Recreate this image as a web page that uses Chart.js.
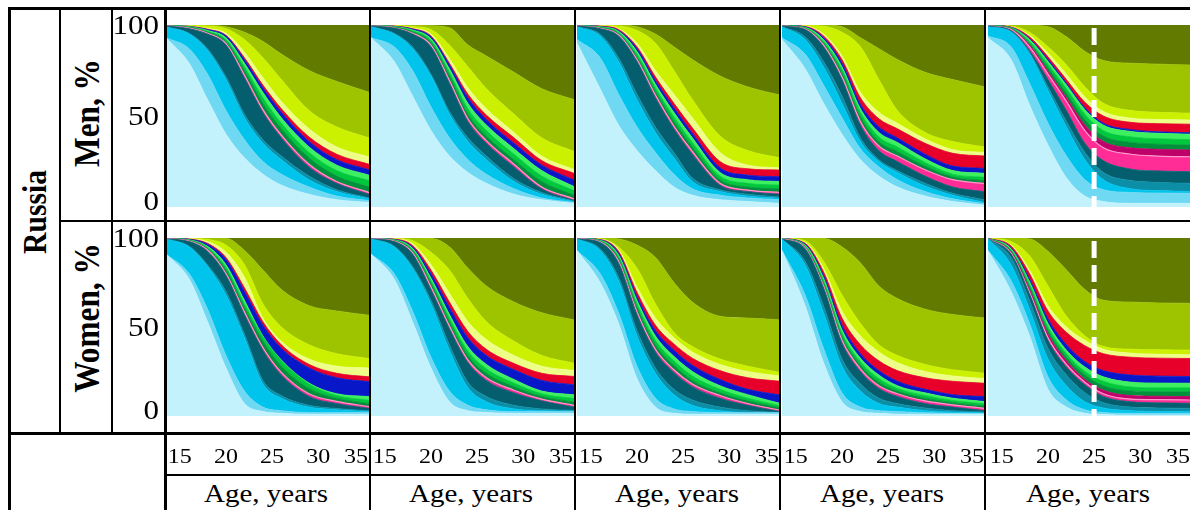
<!DOCTYPE html>
<html>
<head>
<meta charset="utf-8">
<script src="https://cdn.jsdelivr.net/npm/chart.js@4.4.1/dist/chart.umd.min.js"></script>
<style>
  body { margin: 0; background: #fff; }
  #page { position: relative; width: 1190px; height: 510px; overflow: hidden; font-family: "Liberation Serif", "Times New Roman", serif; }
  #page canvas { position: absolute; }
  .ln { position: absolute; background: #000; z-index: 5; }
  .lbl { position: absolute; white-space: nowrap; z-index: 6; color: #000; line-height: 1; }
</style>
</head>
<body>
<div id="page"></div>
<script>
const ages = [13.5, 16, 18, 20, 22, 24, 26, 29, 32, 35.5];
const xTicks = [15, 20, 25, 30, 35];
const yTicks = [0, 50, 100];
const full = [100, 100, 100, 100, 100, 100, 100, 100, 100, 100];

// bottom layer first
const layerColors = [
  '#c4f2fc', '#6fd8f3', '#00c4ec', '#0b8ea6', '#055e6e',
  '#ff2d95', '#c0006a', '#00913a', '#00c83c', '#3cf060',
  '#0818c8', '#e6002a', '#eeff88', '#cbf000', '#9ec400', '#627a00'
];

// cumulative upper edge (%) of each layer, bottom layer first
const men1 = [
  [93, 79, 59, 40, 27, 18, 12, 7, 4, 2.5],
  [93, 87, 73, 53, 37, 25, 18, 11, 6, 3.5],
  [99, 95, 86, 70, 49, 35, 26, 15, 8.5, 4.5],
  [99, 95.5, 87, 71.5, 51, 37, 28, 17, 9.5, 5],
  [99.5, 98, 95, 89, 71, 52, 38, 22, 13, 7],
  [99.6, 98.3, 95.5, 89.8, 72.5, 53.5, 39.5, 23.5, 14, 8],
  [99.6, 98.3, 95.5, 89.8, 72.5, 53.5, 39.5, 23.5, 14, 8],
  [99.7, 98.6, 96, 91, 75, 57, 43, 27, 17, 11],
  [99.8, 98.9, 96.5, 92, 77, 60, 46, 30, 20, 14.5],
  [99.8, 99.1, 97, 93, 79, 63, 49, 33, 23, 17.5],
  [99.9, 99.2, 97.5, 94, 81, 65.5, 52, 36, 26, 20.5],
  [99.9, 99.3, 97.7, 94.3, 82, 67, 54, 38.5, 29, 23.5],
  [99.9, 99.5, 98.2, 95.5, 85, 71, 58, 43, 33, 27.5],
  [100, 99.8, 99.5, 98, 92, 82, 70, 53, 44, 38],
  [100, 100, 100, 99, 96, 91, 84, 75, 69, 63]
];
const men2 = [
  [93, 80, 61, 42, 28, 19, 13, 7, 4, 2],
  [93, 88, 75, 55, 38, 26, 18, 10, 5, 2.5],
  [99, 95, 87, 72, 51, 36, 26, 14, 7, 3],
  [99, 95.5, 88, 73, 52.5, 38, 28, 15.5, 8, 3.3],
  [99.5, 98.3, 95, 88, 68, 47, 35, 22, 10, 3.6],
  [99.6, 98.5, 95.5, 89, 69.5, 48.5, 36.5, 23.5, 11, 4.5],
  [99.6, 98.5, 95.5, 89, 69.5, 48.5, 36.5, 23.5, 11, 4.5],
  [99.7, 98.8, 96.2, 90.5, 72, 51, 39, 26, 14, 6.5],
  [99.8, 99, 96.8, 91.5, 74, 54, 42, 29, 17, 9],
  [99.8, 99.2, 97.3, 92.5, 76, 57, 45, 32, 20, 11.2],
  [99.9, 99.3, 97.8, 93.5, 78, 60, 48, 35, 23, 14.8],
  [99.9, 99.4, 98, 94, 79, 62, 50.5, 38, 25.5, 18.5],
  [99.9, 99.5, 98.4, 95, 81.5, 65.5, 54, 41, 28, 20.5],
  [100, 99.8, 99.2, 97.5, 89, 77, 65, 51, 38, 30.5],
  [100, 100, 99.9, 99.6, 98.5, 89, 83, 74, 65, 59]
];
const men3 = [
  [90, 65, 45, 31, 20, 11, 6.5, 4, 3, 2],
  [92, 82, 62, 44, 30, 18, 10, 6.5, 5, 4],
  [99, 94, 80, 59, 41, 27, 14, 8.5, 6, 4.8],
  [99, 95, 82, 62, 44, 30, 16, 9.5, 7, 5.5],
  [99.5, 98, 94, 80, 60, 43, 29, 12, 8.5, 7],
  [99.6, 98.2, 94.6, 81, 61.5, 44.5, 30.5, 13, 9.3, 8],
  [99.6, 98.2, 94.6, 81, 61.5, 44.5, 30.5, 13, 9.3, 8],
  [99.7, 98.5, 95.3, 82.5, 63.5, 47, 33, 15, 11, 10],
  [99.8, 98.8, 96, 84, 65.5, 49.5, 35.5, 17, 13, 12],
  [99.8, 99, 96.5, 85.5, 67.5, 52, 38, 19, 15, 14],
  [99.9, 99.2, 97, 87, 69.5, 54.5, 40.5, 21.5, 17.5, 16.6],
  [99.9, 99.4, 97.5, 88, 71.5, 57, 43.5, 25, 21, 20.3],
  [99.9, 99.6, 98, 90, 75, 62, 49, 30, 23, 21.5],
  [100, 99.8, 99.5, 97, 90, 75, 59, 39, 31, 27],
  [100, 100, 100, 99, 95, 88, 81, 72, 66, 61.5]
];
const men4 = [
  [92, 76, 57, 40, 26, 17, 11, 6, 3, 1],
  [93, 84, 67, 49, 32, 22, 15, 8.5, 4.5, 1.8],
  [99, 92, 77, 57, 36, 25, 19, 11.5, 6.5, 2.5],
  [99, 93.5, 80, 61, 38, 26, 20, 13, 7.5, 3.9],
  [99.5, 97.5, 88, 70, 45, 31, 25, 17, 11, 8.4],
  [99.6, 97.8, 89, 71.5, 47, 33.5, 28, 20.5, 15, 12.9],
  [99.6, 97.8, 89, 71.5, 47, 33.5, 28, 20.5, 15, 12.9],
  [99.7, 98.1, 90, 73.5, 49.5, 36, 30.5, 22.5, 16.5, 14.5],
  [99.8, 98.4, 91, 75.5, 52, 38.5, 33, 24.5, 18, 16.3],
  [99.8, 98.7, 92, 77, 54, 41, 35.5, 26.5, 20, 18.5],
  [99.9, 99, 93, 79, 56.5, 44, 38, 29, 22.5, 21.2],
  [99.9, 99.2, 94, 81, 60, 48.5, 43, 35, 29.5, 28],
  [99.9, 99.4, 95, 83, 63, 52, 46, 37.5, 31.5, 30],
  [100, 99.8, 99.3, 96, 88, 70, 53, 41, 36, 33],
  [100, 100, 100, 99, 93, 87, 81, 74, 70, 66]
];
const men5 = [
  [93, 81, 56, 34, 16, 6, 3, 2, 2, 2],
  [94, 88, 68, 46, 28, 15, 9.5, 8, 7.7, 7.5],
  [99, 96, 84, 64, 44, 26, 15, 10, 9, 8.5],
  [99, 96.5, 85, 66, 47, 30, 19, 14.5, 13.5, 13],
  [99.5, 97, 86, 70, 53, 35, 25.5, 20.8, 19.8, 19.4],
  [99.6, 97.5, 88, 73, 58, 42, 32.5, 29, 28, 27.6],
  [99.6, 97.7, 89, 74.5, 60, 45, 36, 32.5, 31.7, 31.3],
  [99.7, 98, 90, 76.5, 62.5, 48, 39, 35.5, 34.5, 34],
  [99.8, 98.3, 91, 78.5, 65, 51, 42, 38.5, 37.5, 37],
  [99.8, 98.5, 92, 80, 67, 53.5, 45, 41.5, 40.5, 40],
  [99.9, 98.7, 92.5, 81, 68, 54.5, 46, 42.5, 41.3, 40.8],
  [99.9, 98.9, 93.5, 82.5, 70, 57.5, 50, 46.5, 45.8, 45.5],
  [99.9, 99.1, 94.3, 84.5, 73, 60.5, 52.5, 48.8, 48.1, 47.8],
  [100, 99.4, 96, 88, 78, 66, 57, 53, 52, 51.5],
  [100, 100, 99.8, 99, 93.5, 85.5, 80.5, 79, 78.5, 78]
];
const women1 = [
  [91, 77, 53, 27, 7, 2.5, 1.5, 1, 1, 1],
  [91, 80, 60, 34, 14, 5, 3, 2, 2, 2],
  [99.5, 95, 84, 68, 44, 18, 10, 5, 3.5, 2.5],
  [99.5, 95.5, 85, 70, 46, 20, 11.5, 6, 4.2, 3],
  [99.6, 98, 92.5, 79, 57, 37, 23, 11, 7, 4.3],
  [99.7, 98.3, 93.3, 80, 58.5, 38.5, 24.5, 12.5, 8.2, 5.3],
  [99.7, 98.3, 93.3, 80, 58.5, 38.5, 24.5, 12.5, 8.2, 5.3],
  [99.8, 98.6, 94, 82, 61, 42, 28, 15.5, 10, 7],
  [99.8, 98.8, 94.7, 83.5, 63, 44.5, 31, 18, 11.5, 8.8],
  [99.8, 99, 95.3, 85, 65, 45, 31.5, 18.5, 12.5, 10.9],
  [99.9, 99.3, 96.5, 88, 70, 51, 38, 27, 21.5, 19.3],
  [99.9, 99.4, 97, 89, 72, 53, 40, 29, 24, 22],
  [99.9, 99.6, 98, 92, 78, 55, 42, 32, 28, 27],
  [100, 99.8, 99.2, 96, 85, 63, 50, 40, 35, 32.3],
  [100, 100, 100, 99.8, 93, 82, 71, 62, 59, 56.6]
];
const women2 = [
  [91, 77, 53, 27, 8, 3, 2, 1.5, 1.5, 1.5],
  [91, 80, 59, 33, 14, 6, 3.5, 2.5, 2.5, 2.5],
  [99.5, 95, 83, 63, 37, 16, 8, 4, 3, 2.8],
  [99.5, 95.5, 84, 65, 40, 19, 11, 6, 4, 3.2],
  [99.6, 98, 91, 71, 49, 30, 20, 13, 8.5, 5],
  [99.7, 98.3, 91.8, 72.5, 50.5, 31.5, 21.5, 14.5, 9.5, 6],
  [99.7, 98.3, 91.8, 72.5, 50.5, 31.5, 21.5, 14.5, 9.5, 6],
  [99.8, 98.6, 92.8, 74.5, 53, 34, 24, 16.5, 11, 7.8],
  [99.8, 98.8, 93.5, 76, 55, 36.5, 26.5, 18.5, 12.5, 9.8],
  [99.8, 99, 94.2, 77.5, 57, 39, 29, 20.5, 14, 11.9],
  [99.9, 99.2, 95, 80, 61, 44, 34, 26, 20, 17.5],
  [99.9, 99.4, 95.8, 82, 64, 47.5, 37.5, 29.5, 24, 22.2],
  [99.9, 99.6, 96.8, 85, 69, 53, 43, 34, 28, 25.5],
  [100, 99.8, 98.5, 92, 82, 66, 53, 42, 34, 29.6],
  [100, 100, 100, 99.8, 95, 83, 73, 64, 58, 54]
];
const women3 = [
  [93, 75, 52, 21, 5, 1.5, 1, 1, 1, 1],
  [93, 80, 58, 28, 10, 4, 2.5, 2, 2, 2],
  [99.5, 93, 76, 45, 24, 12, 6, 3, 2, 1.6],
  [99.5, 94, 78, 48, 27, 15, 9, 5, 3, 2],
  [99.6, 97.5, 86, 57, 36, 24.5, 16.5, 10, 6, 2.5],
  [99.7, 97.8, 87, 58.5, 37.5, 26, 18, 11.5, 7, 3.3],
  [99.7, 97.8, 87, 58.5, 37.5, 26, 18, 11.5, 7, 3.3],
  [99.8, 98.2, 88.5, 61, 40, 28.5, 20, 13, 8.5, 4.5],
  [99.8, 98.5, 89.5, 63, 42.5, 31, 22.5, 15, 10, 5.8],
  [99.8, 98.8, 90.5, 65, 45, 33.5, 25, 17, 12, 7.1],
  [99.9, 99, 91.5, 67, 48, 37, 28.5, 20.5, 15, 11.8],
  [99.9, 99.2, 92.5, 69.5, 51, 40.5, 32.5, 25.5, 21.5, 19.5],
  [99.9, 99.4, 93.5, 72.5, 55, 44, 36, 29, 25, 22.5],
  [100, 99.6, 95, 83, 63, 47, 39, 32, 28, 24.5],
  [100, 100, 99.5, 96, 89, 75, 64, 56, 55, 54]
];
const women4 = [
  [93, 62, 30, 8, 2.5, 1.5, 1, 1, 1, 1],
  [93, 68, 38, 13, 5, 3, 2.5, 1.8, 1.5, 1.3],
  [99.5, 85, 58, 28, 14, 7, 5, 3, 2.2, 1.8],
  [99.5, 87, 62, 32, 18, 10, 7, 4.5, 3, 2.2],
  [99.6, 94, 72, 41, 25, 15.5, 11, 7, 5, 3],
  [99.7, 94.5, 73, 42.5, 26.5, 17, 12.5, 8.5, 6.3, 4.3],
  [99.7, 94.5, 73, 42.5, 26.5, 17, 12.5, 8.5, 6.3, 4.3],
  [99.8, 95, 74.5, 44.5, 28.5, 19, 14, 10, 7.5, 5.5],
  [99.8, 95.5, 76, 46.5, 30.5, 21, 15.5, 11.5, 8.7, 6.8],
  [99.8, 96, 77.5, 48.5, 32.5, 23, 17, 13, 10, 8.1],
  [99.9, 96.5, 79, 51, 35, 25.5, 19.5, 15, 12, 10.9],
  [99.9, 97, 81, 55, 40, 31, 25.5, 21.5, 19.5, 18.4],
  [99.9, 97.5, 83, 59, 45, 36, 30, 25, 22.5, 21],
  [100, 98.5, 87, 68, 52, 40, 34, 29, 26, 24],
  [100, 100, 99.8, 95, 86, 73, 66, 60, 57, 55]
];
const women5 = [
  [93, 70, 45, 15, 5, 1.5, 0.8, 0.5, 0.5, 0.5],
  [93, 76, 52, 22, 9, 3.5, 2, 1.5, 1.5, 1.5],
  [99.5, 85, 60, 32, 17, 8, 4.5, 3, 2.5, 2.5],
  [99.5, 89, 65, 38, 23, 13, 7.5, 5, 4.5, 4.3],
  [99.5, 91, 68.5, 42.5, 27.5, 17.5, 11, 8, 7.4, 7.1],
  [99.6, 91.5, 69.5, 44, 29, 19, 12.5, 9.5, 9.2, 9],
  [99.7, 92, 71, 46, 31, 20.5, 14.5, 11.5, 11.1, 10.9],
  [99.8, 92.7, 72.5, 48, 33, 23, 17, 14, 13.6, 13.5],
  [99.8, 93.3, 74, 50, 35, 25, 19.5, 16.3, 15.8, 15.8],
  [99.8, 94, 75.5, 52, 37, 27.5, 22, 19, 18.5, 18.4],
  [99.9, 94.5, 77, 54.5, 40, 30.5, 25.5, 23, 22.4, 22.2],
  [99.9, 95.5, 80, 59, 47, 39.5, 35, 33, 32.5, 32.3],
  [99.9, 96, 82, 62, 50, 42.5, 37.5, 35.3, 34.7, 34.5],
  [100, 98, 90, 73, 56, 45, 39, 37.5, 37.2, 37],
  [100, 100, 99.5, 92.5, 82, 71, 65, 64, 63.5, 63.3]
];

const menPanels = [men1, men2, men3, men4, men5];
const womenPanels = [women1, women2, women3, women4, women5];
const plotLeft = [166, 371, 577, 782, 988];
const plotW = 203;
const markAge = 25; // dashed line in the last column

const page = document.getElementById('page');

function drawText(ctx, text, x, y, align) {
  ctx.save();
  ctx.translate(x, y);
  ctx.scale(1, 0.87);
  ctx.textAlign = align;
  ctx.textBaseline = 'middle';
  ctx.fillText(text, 0, 0);
  ctx.restore();
}

// tick numbers and the dashed marker, placed through the chart's own scales
const tickText = {
  id: 'tickText',
  afterDraw(chart, args, opts) {
    const { ctx, chartArea, scales } = chart;
    ctx.save();
    ctx.fillStyle = '#000';
    if (opts.showY) {
      ctx.font = '31px "Liberation Serif"';
      yTicks.forEach(v => {
        const y = Math.min(scales.y.getPixelForValue(v) + 2, chartArea.bottom - 4);
        drawText(ctx, String(v), chartArea.left - 7, y, 'right');
      });
    }
    if (opts.showX) {
      ctx.font = '24px "Liberation Serif"';
      xTicks.forEach((v, i) => {
        const last = i === xTicks.length - 1;
        const x = last ? chartArea.right - 1 : scales.x.getPixelForValue(v);
        drawText(ctx, String(v), x, chartArea.bottom + 42, last ? 'right' : 'center');
      });
    }
    if (opts.mark) {
      const x = scales.x.getPixelForValue(markAge);
      ctx.strokeStyle = '#fff';
      ctx.lineWidth = 5;
      ctx.setLineDash([17, 7]);
      ctx.beginPath();
      ctx.moveTo(x, chartArea.top + 3);
      ctx.lineTo(x, chartArea.bottom);
      ctx.stroke();
    }
    ctx.restore();
  }
};

function addPanel(bounds, left, top, h, opts) {
  const pad = { left: opts.showY ? 58 : 0, right: 0, top: 14, bottom: opts.showX ? 60 : 14 };
  const canvas = document.createElement('canvas');
  canvas.width = plotW + pad.left + pad.right;
  canvas.height = h + pad.top + pad.bottom;
  canvas.style.left = (left - pad.left) + 'px';
  canvas.style.top = (top - pad.top) + 'px';
  page.appendChild(canvas);

  const rows = bounds.concat([full]);
  new Chart(canvas, {
    type: 'line',
    data: {
      datasets: rows.map((r, i) => ({
        data: r.map((v, k) => ({ x: ages[k], y: v })),
        fill: i === 0 ? 'origin' : '-1',
        backgroundColor: layerColors[i],
        borderColor: i === 5 ? '#ff9acb' : layerColors[i],
        borderWidth: i === 5 ? 1.2 : 0.8,
        pointRadius: 0,
        cubicInterpolationMode: 'monotone'
      }))
    },
    options: {
      responsive: false,
      animation: false,
      events: [],
      layout: { padding: pad },
      scales: {
        x: { type: 'linear', min: 13.5, max: 35.5, display: false },
        y: { min: 0, max: 100, display: false }
      },
      plugins: {
        legend: { display: false },
        tooltip: { enabled: false },
        tickText: opts
      }
    },
    plugins: [tickText]
  });
}

plotLeft.forEach((left, c) => {
  addPanel(menPanels[c], left, 25, 182, { showY: c === 0, showX: false, mark: c === 4 });
  addPanel(womenPanels[c], left, 238, 178, { showY: c === 0, showX: true, mark: c === 4 });
});

// table rules
const rules = [
  [8, 7, 1182, 3], [8, 7, 3, 503], [59, 7, 2, 427], [111, 7, 2, 427], [164, 7, 3, 503],
  [369, 7, 2, 503], [574, 7, 2, 503], [779, 7, 2, 503], [984, 7, 2, 503],
  [59, 220, 1131, 2], [8, 432, 1182, 3], [164, 474, 1026, 2]
];
rules.forEach(([x, y, w, h]) => {
  const d = document.createElement('div');
  d.className = 'ln';
  Object.assign(d.style, { left: x + 'px', top: y + 'px', width: w + 'px', height: h + 'px' });
  page.appendChild(d);
});

function addLabel(text, cx, cy, size, bold, transform) {
  const d = document.createElement('div');
  d.className = 'lbl';
  d.textContent = text;
  Object.assign(d.style, {
    left: cx + 'px', top: cy + 'px', fontSize: size + 'px',
    fontWeight: bold ? 'bold' : 'normal',
    transform: 'translate(-50%, -50%) ' + transform
  });
  page.appendChild(d);
}

addLabel('Russia', 35, 212, 34, true, 'rotate(-90deg) scaleX(0.87)');
addLabel('Men, %', 87, 113, 36, true, 'rotate(-90deg) scaleX(0.87)');
addLabel('Women, %', 87, 318, 36, true, 'rotate(-90deg) scaleX(0.87)');
plotLeft.forEach(left => {
  addLabel('Age, years', left + 100, 494, 29, false, 'scaleY(0.87)');
});
</script>
</body>
</html>
